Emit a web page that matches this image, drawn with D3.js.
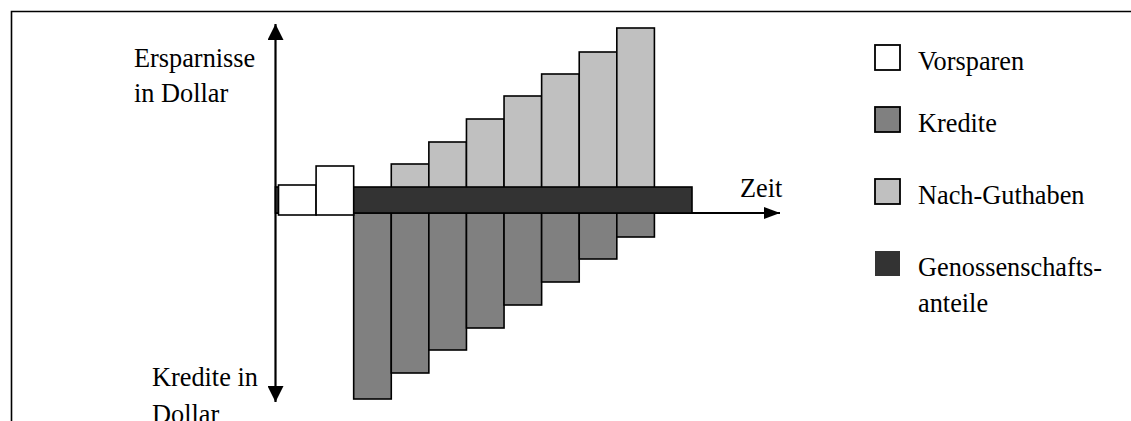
<!DOCTYPE html>
<html>
<head>
<meta charset="utf-8">
<script src="https://cdn.jsdelivr.net/npm/d3@7"></script>
</head>
<body style="margin:0;padding:0;background:#fff;overflow:hidden">
<svg id="chart" width="1131" height="421" style="display:block"></svg>
<script>
// ---- data (periods on the time axis, amounts in arbitrary dollar units) ----
const vorsparenPeriods = [0, 1];
const vorsparenValues  = [28, 47];

const kreditePeriods = [2, 3, 4, 5, 6, 7, 8, 9];
const krediteValues  = [186, 160, 137, 115, 92, 69, 46, 24];

const guthabenPeriods = [3, 4, 5, 6, 7, 8, 9];
const guthabenValues  = [49, 71, 94, 117, 139, 161, 185];

const anteilePeriods = [0, 11];   // start / end of the share bar
const anteileValue   = [26];

const legendLabels = [["Vorsparen"], ["Kredite"], ["Nach-Guthaben"], ["Genossenschafts-", "anteile"]];
const legendColors = ["#ffffff", "#808080", "#c0c0c0", "#333333"];
const legendStroke = ["#000", "#000", "#000", "none"];

const yAxisTopLabel = ["Ersparnisse", "in Dollar"];
const yAxisBottomLabel = ["Kredite in", "Dollar"];
const xAxisLabel = "Zeit";

// ---- layout ----
const FONT = "'Liberation Serif', 'Times New Roman', serif";
const FS = 26.3;
const svg = d3.select("#chart");
const x = d3.scaleLinear().domain([0, 11]).range([278.5, 692]);
const y = d3.scaleLinear().domain([0, 100]).range([213, 113]);
const axisX = 275.5;

function txt(sel) {
  return sel.attr("font-family", FONT).attr("font-size", FS).attr("fill", "#000")
    .style("font-family", FONT).style("font-size", FS + "px");
}

// frame
svg.append("path").attr("d", "M11.5,421 V11.5 H1131")
  .attr("fill", "none").attr("stroke", "#000").attr("stroke-width", 1.6);

// arrow markers
const defs = svg.append("defs");
defs.append("marker").attr("id", "arr").attr("viewBox", "0 0 16 16")
  .attr("refX", 16).attr("refY", 8).attr("markerWidth", 16).attr("markerHeight", 16)
  .attr("markerUnits", "userSpaceOnUse").attr("orient", "auto")
  .append("path").attr("d", "M0,0 L16,8 L0,16 Z").attr("fill", "#000");
defs.append("marker").attr("id", "arrSmall").attr("viewBox", "0 0 16 12")
  .attr("refX", 16).attr("refY", 6).attr("markerWidth", 16).attr("markerHeight", 12)
  .attr("markerUnits", "userSpaceOnUse").attr("orient", "auto")
  .append("path").attr("d", "M0,0 L16,6 L0,12 Z").attr("fill", "#000");

// vertical axis (double arrow)
svg.append("line").attr("x1", axisX).attr("x2", axisX).attr("y1", y(0)).attr("y2", 24)
  .attr("stroke", "#000").attr("stroke-width", 2.2).attr("marker-end", "url(#arr)");
svg.append("line").attr("x1", axisX).attr("x2", axisX).attr("y1", y(0)).attr("y2", 402)
  .attr("stroke", "#000").attr("stroke-width", 2.2).attr("marker-end", "url(#arr)");
// horizontal axis
svg.append("line").attr("x1", axisX).attr("x2", 780).attr("y1", y(0)).attr("y2", y(0))
  .attr("stroke", "#000").attr("stroke-width", 2).attr("marker-end", "url(#arrSmall)");

const barW = x(1) - x(0);

// Nach-Guthaben (light grey, above axis)
svg.append("g").selectAll("rect").data(guthabenPeriods.map((p, i) => ({p, v: guthabenValues[i]})))
  .join("rect")
  .attr("x", d => x(d.p)).attr("width", barW)
  .attr("y", d => y(d.v)).attr("height", d => y(0) - y(d.v))
  .attr("fill", "#c0c0c0").attr("stroke", "#000").attr("stroke-width", 1.6);

// Kredite (grey, below axis)
svg.append("g").selectAll("rect").data(kreditePeriods.map((p, i) => ({p, v: krediteValues[i]})))
  .join("rect")
  .attr("x", d => x(d.p)).attr("width", barW)
  .attr("y", y(0)).attr("height", d => y(-d.v) - y(0))
  .attr("fill", "#808080").attr("stroke", "#000").attr("stroke-width", 1.6);

// Genossenschaftsanteile (dark bar along the axis)
svg.append("rect")
  .attr("x", axisX).attr("width", x(anteilePeriods[1]) - axisX)
  .attr("y", y(anteileValue[0])).attr("height", y(0) - y(anteileValue[0]))
  .attr("fill", "#333333").attr("stroke", "#000").attr("stroke-width", 1.6);

// Vorsparen (white)
svg.append("g").selectAll("rect").data(vorsparenPeriods.map((p, i) => ({p, v: vorsparenValues[i]})))
  .join("rect")
  .attr("x", d => x(d.p)).attr("width", barW)
  .attr("y", d => y(d.v)).attr("height", d => y(-2) - y(d.v))
  .attr("fill", "#ffffff").attr("stroke", "#000").attr("stroke-width", 1.6);

// axis labels
txt(svg.append("text")).selectAll("tspan").data(yAxisTopLabel).join("tspan")
  .attr("x", 134).attr("y", (d, i) => 67 + i * 35).text(d => d);
txt(svg.append("text")).selectAll("tspan").data(yAxisBottomLabel).join("tspan")
  .attr("x", 152).attr("y", (d, i) => 386 + i * 36.5).text(d => d);
txt(svg.append("text")).attr("x", 740).attr("y", 197).text(xAxisLabel);

// legend
const legTops = [45, 107, 179, 251];
const leg = svg.append("g").selectAll("g").data(legendLabels).join("g");
leg.append("rect").attr("x", 875).attr("y", (d, i) => legTops[i]).attr("width", 25).attr("height", 25)
  .attr("fill", (d, i) => legendColors[i]).attr("stroke", (d, i) => legendStroke[i]).attr("stroke-width", 1.8);
leg.append("text").each(function(d, i) {
  txt(d3.select(this)).selectAll("tspan").data(d).join("tspan")
    .attr("x", 918).attr("y", (t, j) => legTops[i] + 25 + j * 36).text(t => t);
});
</script>
</body>
</html>
